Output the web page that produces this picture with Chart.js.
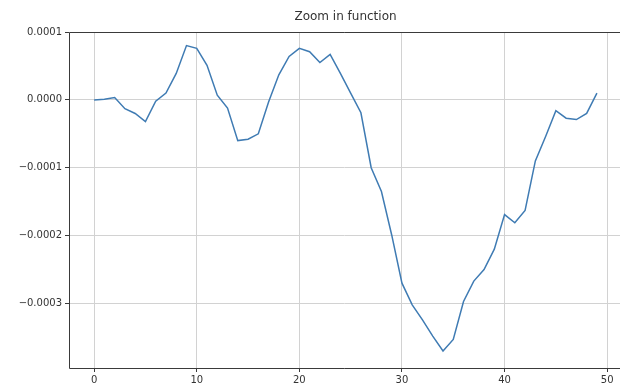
<!DOCTYPE html>
<html lang="en">
<head>
  <meta charset="UTF-8">
  <title>Zoom in function</title>
  <script src="https://cdn.jsdelivr.net/npm/chart.js"></script>
  <style>
    html, body {
      margin: 0;
      padding: 0;
      background: #fff;
      overflow: hidden;
    }
    .wrap {
      width: 620px;
      height: 389px;
    }
  </style>
</head>
<body>
  <div class="wrap">
    <canvas id="zoomChart" width="620" height="389"></canvas>
  </div>

  <script>
    // values, one per x step (0..49)
    const xValues = [];
    for (let i = 0; i < 50; i++) xValues.push(i);

    const yValues = [
      0.0, 0.000001, 0.0000035, -0.000013, -0.00002, -0.000032, -0.000002, 0.00001, 0.000039, 0.00008,
      0.000076, 0.000051, 0.000007, -0.000012, -0.00006, -0.000058, -0.00005, -0.000003, 0.000037, 0.000064,
      0.000076, 0.000071, 0.000055, 0.000067, 0.000039, 0.00001, -0.000019, -0.0001, -0.000135, -0.000199,
      -0.00027, -0.000302, -0.000324, -0.000348, -0.00037, -0.000353, -0.000297, -0.000267, -0.00025, -0.00022,
      -0.000169, -0.000181, -0.000163, -0.00009, -0.000054, -0.000016, -0.000027, -0.000029, -0.00002, 0.00001
    ];

    const xTicks = [0, 10, 20, 30, 40, 50];
    const yTicks = [0.0001, 0.0, -0.0001, -0.0002, -0.0003];
    const yTickLabels = ['0.0001', '0.0000', '\u22120.0001', '\u22120.0002', '\u22120.0003'];

    const titleText = 'Zoom in function';

    // spines (right one falls outside the picture) and the title centred over the plot
    const framePlugin = {
      id: 'frame',
      afterDraw(chart) {
        const { ctx, chartArea } = chart;
        const l = chartArea.left + 0.5, t = chartArea.top + 0.5, b = chartArea.bottom + 0.5;
        ctx.save();
        ctx.strokeStyle = '#3a3a3a';
        ctx.lineWidth = 1;
        ctx.beginPath();
        ctx.moveTo(chartArea.right, t);
        ctx.lineTo(l, t);
        ctx.lineTo(l, b);
        ctx.lineTo(chartArea.right, b);
        ctx.stroke();
        ctx.fillStyle = '#333';
        ctx.font = '12px "DejaVu Sans", sans-serif';
        ctx.textAlign = 'center';
        ctx.textBaseline = 'middle';
        ctx.fillText(titleText, (chartArea.left + chartArea.right + 2) / 2, 17);
        ctx.restore();
      }
    };

    const points = xValues.map((x, i) => ({ x: x, y: yValues[i] }));

    new Chart(document.getElementById('zoomChart'), {
      type: 'line',
      data: {
        datasets: [{
          data: points,
          borderColor: '#3f7bb3',
          borderWidth: 1.5,
          pointRadius: 0,
          tension: 0,
          fill: false
        }]
      },
      options: {
        responsive: false,
        animation: false,
        layout: { padding: { top: 32, right: 0, left: 0, bottom: 0 } },
        plugins: {
          legend: { display: false },
          tooltip: { enabled: false },
          title: { display: false }
        },
        scales: {
          x: {
            type: 'linear',
            min: -2.45,
            max: 51.25,
            afterBuildTicks: (scale) => { scale.ticks = xTicks.map(v => ({ value: v })); },
            afterFit: (scale) => { scale.height = 21; },
            grid: {
              color: '#d2d2d2',
              tickColor: '#3a3a3a',
              tickLength: 4
            },
            border: { display: false },
            ticks: {
              color: '#333',
              padding: 2,
              maxRotation: 0,
              font: { family: 'DejaVu Sans', size: 10 },
              callback: (v) => String(v)
            }
          },
          y: {
            min: -0.000395,
            max: 0.0001,
            afterBuildTicks: (scale) => { scale.ticks = yTicks.map(v => ({ value: v })); },
            afterFit: (scale) => { scale.width = 69; },
            grid: {
              color: '#d2d2d2',
              tickColor: '#3a3a3a',
              tickLength: 4
            },
            border: { display: false },
            ticks: {
              color: '#333',
              padding: 3,
              font: { family: 'DejaVu Sans', size: 10 },
              callback: (v) => {
                const idx = yTicks.findIndex(t => Math.abs(t - v) < 1e-9);
                return idx >= 0 ? yTickLabels[idx] : '';
              }
            }
          }
        }
      },
      plugins: [framePlugin]
    });
  </script>
</body>
</html>
